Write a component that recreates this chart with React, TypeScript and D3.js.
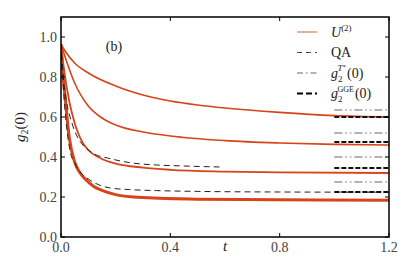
import React from "react";
import * as d3 from "d3";

// U^(2) curves: [t, g2(0)]
const u1: [number, number][] = [[0,0.965],[0.015,0.93],[0.05,0.87],[0.1,0.82],[0.2,0.755],[0.3,0.71],[0.4,0.68],[0.5,0.66],[0.6,0.645],[0.8,0.623],[1.0,0.607],[1.2,0.6]];
const u2: [number, number][] = [[0,0.965],[0.02,0.88],[0.05,0.77],[0.1,0.655],[0.15,0.595],[0.2,0.56],[0.3,0.525],[0.4,0.505],[0.6,0.482],[0.8,0.47],[1.0,0.463],[1.2,0.46]];
const u3: [number, number][] = [[0,0.965],[0.01,0.85],[0.03,0.68],[0.05,0.57],[0.08,0.47],[0.1,0.435],[0.15,0.39],[0.2,0.367],[0.3,0.347],[0.4,0.336],[0.6,0.327],[0.8,0.323],[1.2,0.32]];
const u4: [number, number][] = [[0,0.965],[0.005,0.85],[0.015,0.7],[0.03,0.5],[0.05,0.375],[0.07,0.32],[0.09,0.288],[0.12,0.253],[0.15,0.233],[0.2,0.212],[0.3,0.197],[0.5,0.189],[0.8,0.186],[1.2,0.184]];
const uSeries = [u1, u2, u3, u4];
const uWidths = [1.6, 1.6, 1.8, 3];

// QA curves
const qa1: [number, number][] = [[0,0.965],[0.01,0.78],[0.02,0.68],[0.04,0.57],[0.06,0.5],[0.08,0.46],[0.1,0.435],[0.13,0.41],[0.17,0.395],[0.25,0.372],[0.35,0.36],[0.45,0.355],[0.58,0.35]];
const qa2: [number, number][] = [[0,0.965],[0.01,0.72],[0.02,0.56],[0.035,0.42],[0.05,0.37],[0.07,0.325],[0.1,0.29],[0.14,0.26],[0.18,0.245],[0.25,0.237],[0.35,0.232],[0.5,0.228],[0.8,0.225],[1.2,0.224]];

// steady-state levels shown on the right
const gTstar = [0.635, 0.52, 0.40, 0.275];
const gGGE = [0.6, 0.475, 0.345, 0.225];
const levelRange = [1.0, 1.2];

const xTicks = [0, 0.4, 0.8, 1.2];
const yTicks = [0, 0.2, 0.4, 0.6, 0.8, 1.0];

const RED = "#d8441a";
const FONT = "Liberation Serif";
const INK = "#222";

export default function App() {
  const W = 415, H = 277;
  const left = 61, right = 389, top = 17, bottom = 237;
  const x = d3.scaleLinear().domain([0, 1.2]).range([left, right]);
  const y = d3.scaleLinear().domain([0, 1.1]).range([bottom, top]);
  const line = d3.line<[number, number]>().x(d => x(d[0])).y(d => y(d[1])).curve(d3.curveMonotoneX);

  const dashQA = "6,4";
  const dashT = "8,3,1.5,3,1.5,3";
  const dashG = "5,2";

  const legend = [
    { stroke: "#e8907a", dash: undefined, w: 1.5 },
    { stroke: "#444", dash: "5,4", w: 1.2 },
    { stroke: "#999", dash: "6,3,1.5,3", w: 1.5 },
    { stroke: "#000", dash: "6,3", w: 1.8 },
  ];

  return (
    <svg width={W} height={H} style={{ position: "absolute", left: 0, top: 0 }}>
      <rect width={W} height={H} fill="#fff" />
      <defs>
        <clipPath id="plot"><rect x={left} y={top} width={right - left} height={bottom - top} /></clipPath>
      </defs>
      <g clipPath="url(#plot)">
        {uSeries.map((s, i) => (
          <path key={"u" + i} d={line(s) || ""} fill="none" stroke={RED} strokeWidth={uWidths[i]} />
        ))}
        {[qa1, qa2].map((s, i) => (
          <path key={"q" + i} d={line(s) || ""} fill="none" stroke="#222" strokeWidth={1} strokeDasharray={dashQA} />
        ))}
        {gTstar.map((v, i) => (
          <line key={"t" + i} x1={x(levelRange[0])} x2={x(levelRange[1])} y1={y(v)} y2={y(v)} stroke="#999" strokeWidth={1.5} strokeDasharray={dashT} />
        ))}
        {gGGE.map((v, i) => (
          <line key={"g" + i} x1={x(levelRange[0])} x2={x(levelRange[1])} y1={y(v)} y2={y(v)} stroke="#111" strokeWidth={1.8} strokeDasharray={dashG} />
        ))}
      </g>
      {/* frame */}
      <rect x={left} y={top} width={right - left} height={bottom - top} fill="none" stroke="#000" strokeWidth={1.5} />
      {xTicks.map(t => (
        <g key={"xt" + t}>
          <line x1={x(t)} x2={x(t)} y1={bottom} y2={bottom - 4} stroke="#000" />
          <line x1={x(t)} x2={x(t)} y1={top} y2={top + 4} stroke="#000" />
          <text x={x(t)} y={bottom + 15} textAnchor="middle" fontSize={14} fontFamily={FONT} fill="#444">{t.toFixed(1)}</text>
        </g>
      ))}
      {yTicks.map(t => (
        <g key={"yt" + t}>
          <line x1={left} x2={left + 4} y1={y(t)} y2={y(t)} stroke="#000" />
          <line x1={right} x2={right - 4} y1={y(t)} y2={y(t)} stroke="#000" />
          <text x={left - 4} y={y(t) + 4.5} textAnchor="end" fontSize={14} fontFamily={FONT} fill="#444">{t.toFixed(1)}</text>
        </g>
      ))}
      <text x={225} y={251} fontSize={15} fontStyle="italic" textAnchor="middle" fontFamily={FONT} fill={INK}>t</text>
      <text transform={`translate(25,${(top + bottom) / 2}) rotate(-90)`} textAnchor="middle" fontSize={15} fontFamily={FONT} fill={INK}>
        <tspan fontStyle="italic">g</tspan><tspan fontSize={10} dy={3}>2</tspan><tspan dy={-3}>(0)</tspan>
      </text>
      <text x={114} y={51} fontSize={14} textAnchor="middle" fontFamily={FONT} fill={INK}>(b)</text>
      {/* legend */}
      {legend.map((l, i) => {
        const ly = 32 + i * 20.5;
        return (
          <line key={"lg" + i} x1={297} x2={317} y1={ly} y2={ly} stroke={l.stroke} strokeWidth={l.w} strokeDasharray={l.dash} />
        );
      })}
      <text x={331} y={37} fontSize={14} fontFamily={FONT} fill={INK}>
        <tspan fontStyle="italic">U</tspan><tspan fontSize={9} dy={-6}>(2)</tspan>
      </text>
      <text x={331} y={57} fontSize={14} fontFamily={FONT} fill={INK}>QA</text>
      <text x={331} y={78} fontSize={14} fontFamily={FONT} fill={INK}>
        <tspan fontStyle="italic">g</tspan><tspan fontSize={9} dy={4}>2</tspan>
        <tspan fontSize={9} dx={-5} dy={-11} fontStyle="italic">T</tspan><tspan fontSize={7} dy={-2}>*</tspan>
        <tspan dy={9} dx={1}>(0)</tspan>
      </text>
      <text x={331} y={98} fontSize={14} fontFamily={FONT} fill={INK}>
        <tspan fontStyle="italic">g</tspan><tspan fontSize={9} dy={4}>2</tspan>
        <tspan fontSize={8} dx={-5} dy={-10}>GGE</tspan>
        <tspan dy={6} dx={1}>(0)</tspan>
      </text>
    </svg>
  );
}
